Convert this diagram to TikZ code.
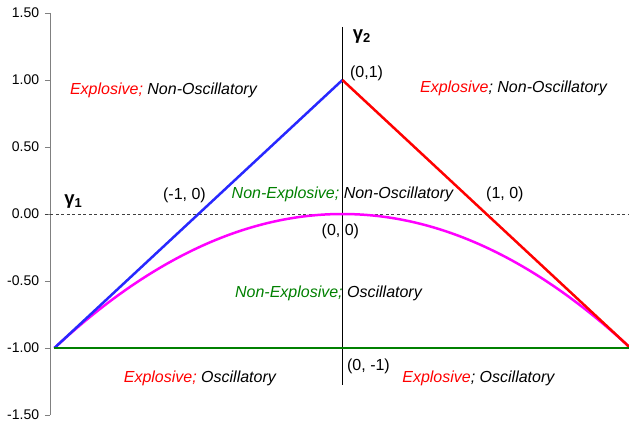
\documentclass[tikz,border=0pt]{standalone}
\usepackage{fontspec}
\setmainfont{Liberation Sans}
\usepackage{tikz}

\definecolor{expred}{RGB}{255,0,0}
\definecolor{nongreen}{RGB}{0,128,0}
\definecolor{axisgray}{RGB}{128,128,128}
\definecolor{curvemag}{RGB}{255,0,255}
\definecolor{lineblue}{RGB}{40,40,255}

\tikzset{
  region/.style={inner sep=0pt, font=\fontsize{16}{19}\selectfont\itshape},
  pointlab/.style={inner sep=0pt, font=\fontsize{16}{19}\selectfont},
  ticklab/.style={anchor=east, inner sep=0pt, font=\fontsize{14}{16}\selectfont},
  gammalab/.style={inner sep=0pt, font=\fontsize{18.5}{21}\selectfont\bfseries},
  boundary/.style={line width=2.5pt}
}

\begin{document}
\begin{tikzpicture}[x=144pt, y=134pt]
  \useasboundingbox (-2.378,-1.552) rectangle (1.990,1.597);
  \begin{scope}
  \clip (-2.378,-1.552) rectangle (1.990,1.597);
  % axes
  \draw[axisgray, line width=0.8pt] (-2.028,1.50) -- (-2.028,-1.50);
  \foreach \v/\t in {1.5/1.50,1/1.00,0.5/0.50,0/0.00,-0.5/-0.50,-1/-1.00,-1.5/-1.50} {
    \draw[axisgray, line width=0.8pt] (-2.066,\v) -- (-2.028,\v);
    \node[ticklab] (tick\t) at (-2.105,\v) {\t};
  }
  \draw[black!75, dashed, dash pattern=on 3pt off 2.5pt, line width=0.8pt] (-2.066,0) -- (1.99,0);
  \draw[black, line width=0.8pt] (0,1.396) -- (0,-1.276);
  % boundaries
  \coordinate (lft) at (-2,-1);
  \coordinate (apex) at (0,1);
  \coordinate (rgt) at (2,-1);
  \draw[boundary, curvemag] plot[domain=-2:2, samples=81, smooth] (\x,{-0.25*\x*\x});
  \draw[boundary, lineblue] (lft) -- (apex);
  \draw[boundary, expred] (apex) -- (rgt);
  \draw[boundary, nongreen] (lft) -- (rgt);
  \end{scope}
  % labels
  \node[gammalab] (g1) at (-1.868,0.090) {γ\textsubscript{1}};
  \node[gammalab] (g2) at (0.135,1.325) {γ\textsubscript{2}};
  \node[pointlab, anchor=west] (p01) at (0.052,1.052) {(0,1)};
  \node[pointlab] (pm10) at (-1.097,0.142) {(-1, 0)};
  \node[pointlab] (p10) at (1.128,0.149) {(1, 0)};
  \node[pointlab] (p00) at (-0.014,-0.127) {(0, 0)};
  \node[pointlab] (p0m1) at (0.181,-1.134) {(0, -1)};
  \node[region] (tl) at (-1.243,0.925) {\textcolor{expred}{Explosive;} Non-Oscillatory};
  \node[region] (tr) at (1.1875,0.940) {\textcolor{expred}{Explosive}; Non-Oscillatory};
  \node[region] (mid) at (0,0.149) {\textcolor{nongreen}{Non-Explosive;} Non-Oscillatory};
  \node[region] (low) at (-0.097,-0.590) {\textcolor{nongreen}{Non-Explosive;} Oscillatory};
  \node[region] (bl) at (-0.990,-1.224) {\textcolor{expred}{Explosive;} Oscillatory};
  \node[region] (br) at (0.944,-1.224) {\textcolor{expred}{Explosive}; Oscillatory};
\end{tikzpicture}
\end{document}
